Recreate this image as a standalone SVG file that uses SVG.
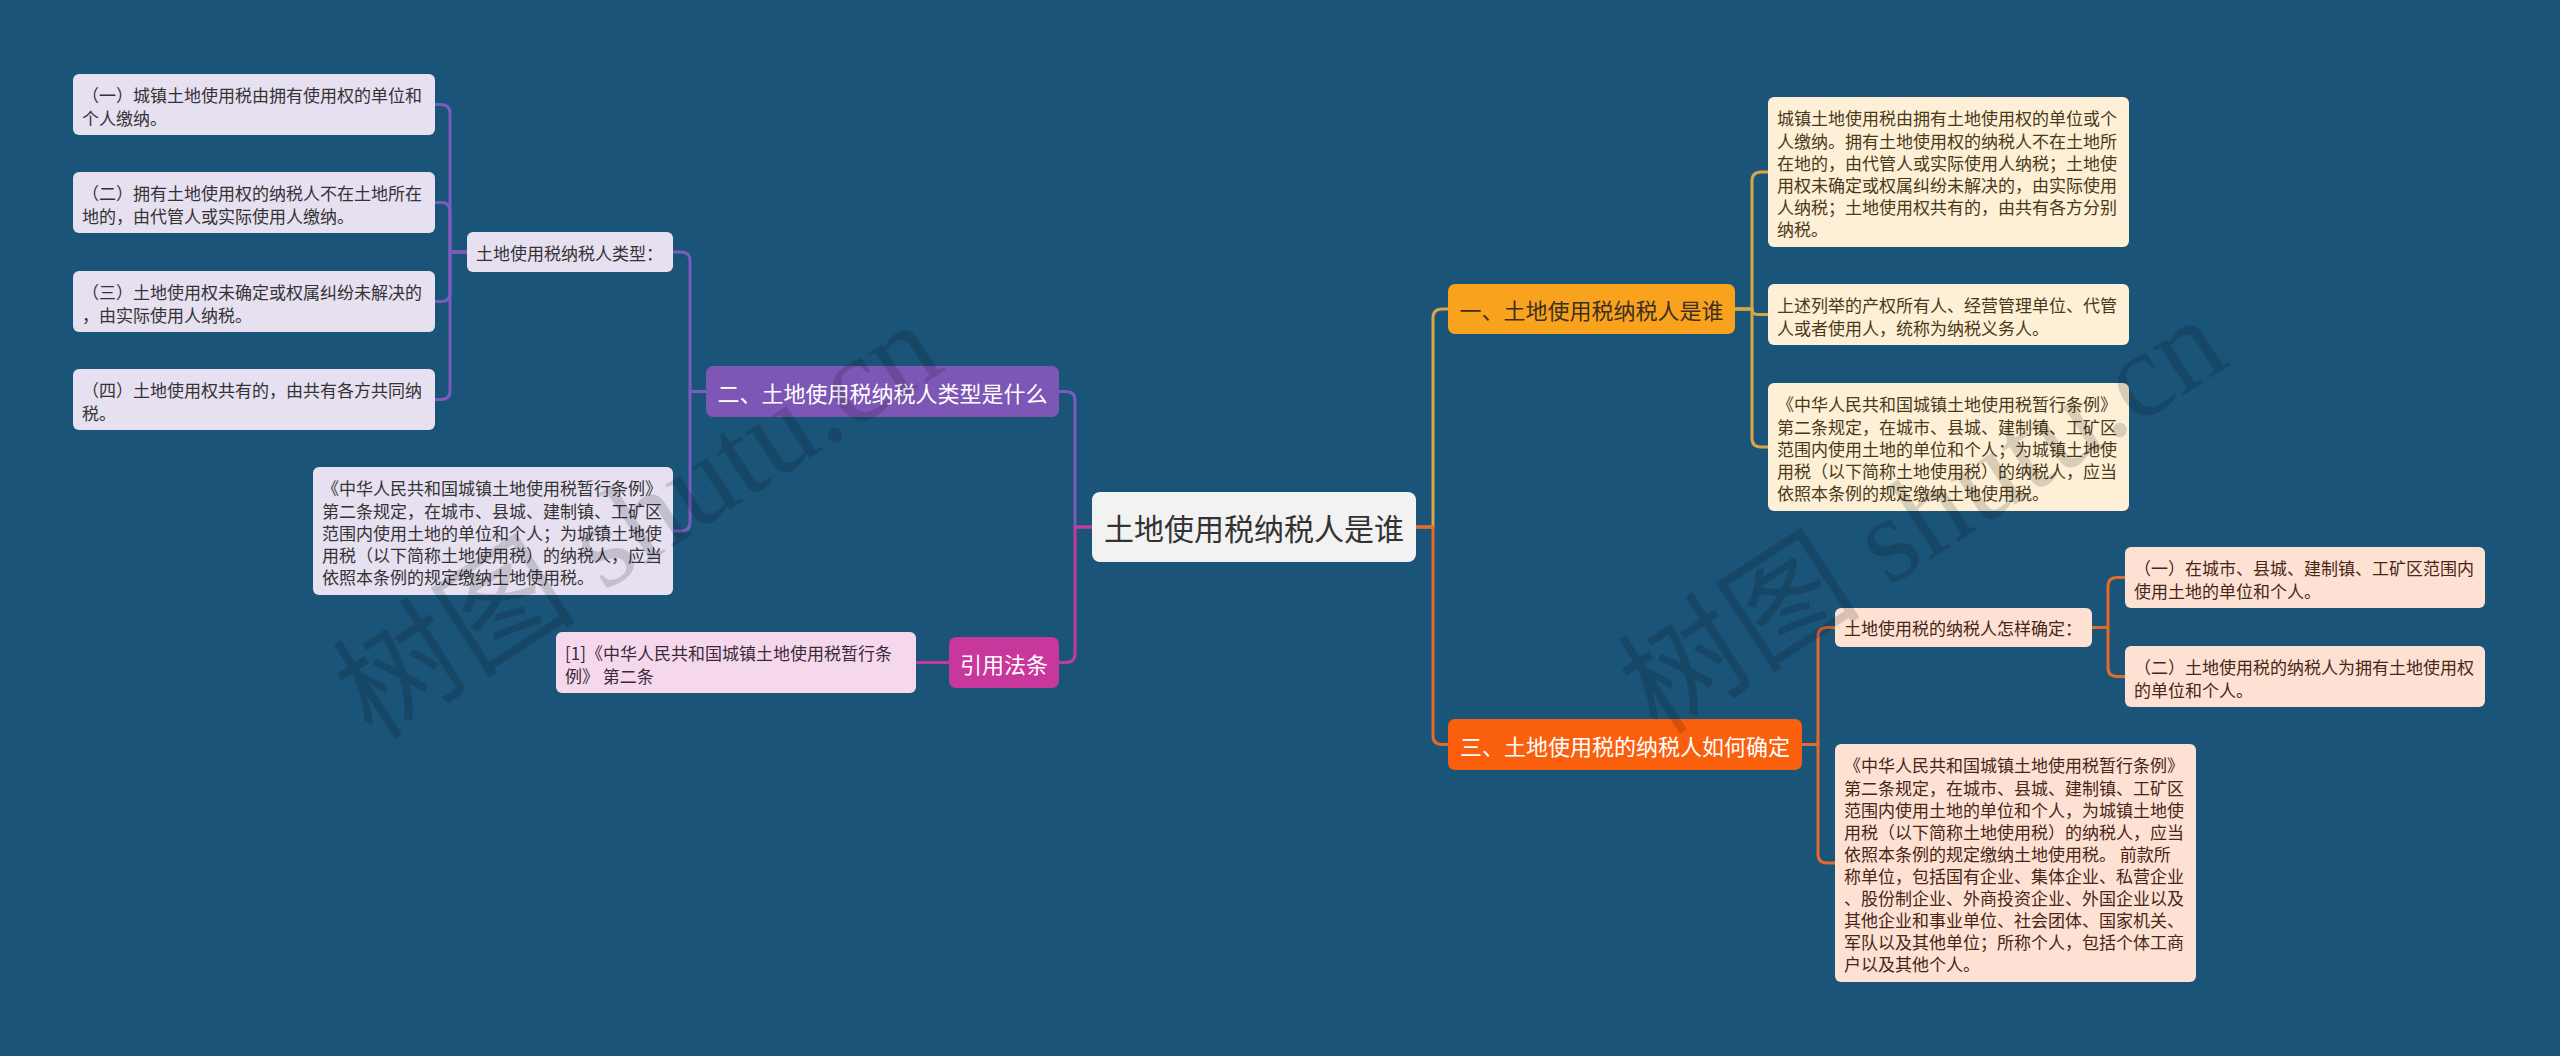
<svg xmlns="http://www.w3.org/2000/svg" width="2560" height="1056" viewBox="0 0 2560 1056">
<style>
text { font-family: "Noto Sans CJK SC", "Noto Sans", sans-serif; dominant-baseline: central; }
.lf { font-size: 17px; }
.br { font-size: 22px; text-anchor: middle; }
.ct { font-size: 30px; text-anchor: middle; fill: #333333; }
.purpleLeaf { fill: #e6e0f1; }
.purpleTxt { fill: #333333; }
.goldLeaf { fill: #fdf0d6; }
.goldTxt { fill: #4a3819; }
.orLeaf { fill: #fde2d3; }
.orTxt { fill: #4a2517; }
.pinkLeaf { fill: #f6d8ec; }
.pinkTxt { fill: #3a2a3a; }
.c { fill: none; stroke-width: 3; stroke-linecap: round; stroke-linejoin: round; }
.cp { stroke: #7a5cbc; }
.cm { stroke: #c43a9c; }
.cg { stroke: #d9a645; }
.co { stroke: #e3692c; }
.wm { font-family: "Liberation Serif", "Noto Sans CJK SC", serif; font-size: 122px; fill: #000000; opacity: 0.14; text-anchor: middle; dominant-baseline: auto; }
</style>
<rect width="2560" height="1056" fill="#1b5479"/>

<g id="connectors">
  <path class="c cp" d="M467,252 H450 V113.5 Q450,104.5 441,104.5 H435"/>
  <path class="c cp" d="M467,252 H450 V211.5 Q450,202.5 441,202.5 H435"/>
  <path class="c cp" d="M467,252 H450 V292.5 Q450,301.5 441,301.5 H435"/>
  <path class="c cp" d="M467,252 H450 V390.5 Q450,399.5 441,399.5 H435"/>
  <path class="c cp" d="M706,391.5 H690 V261 Q690,252 681,252 H673"/>
  <path class="c cp" d="M706,391.5 H690 V522 Q690,531 681,531 H673"/>
  <path class="c cp" d="M1092,527 H1075 V400.5 Q1075,391.5 1066,391.5 H1059"/>
  <path class="c cm" d="M1092,527 H1075 V653.5 Q1075,662.5 1066,662.5 H1059"/>
  <path class="c cm" d="M949,662.5 H916"/>
  <path class="c cg" d="M1416,527 H1433 V318 Q1433,309 1442,309 H1448"/>
  <path class="c co" d="M1416,527 H1433 V735.5 Q1433,744.5 1442,744.5 H1448"/>
  <path class="c cg" d="M1735,309 H1752 V181 Q1752,172 1761,172 H1768"/>
  <path class="c cg" d="M1735,309 H1752 Q1752,314.5 1757.5,314.5 H1768"/>
  <path class="c cg" d="M1735,309 H1752 V438 Q1752,447 1761,447 H1768"/>
  <path class="c co" d="M1802,744.5 H1818 V636.5 Q1818,627.5 1827,627.5 H1835"/>
  <path class="c co" d="M1802,744.5 H1818 V854 Q1818,863 1827,863 H1835"/>
  <path class="c co" d="M2092,627.5 H2108 V586.5 Q2108,577.5 2117,577.5 H2125"/>
  <path class="c co" d="M2092,627.5 H2108 V667.5 Q2108,676.5 2117,676.5 H2125"/>
</g>

<g id="center">
  <rect x="1092" y="492" width="324" height="70" rx="8" fill="#f2f2f2"/>
  <text class="ct" x="1254" y="527">土地使用税纳税人是谁</text>
</g>

<g id="branch-er">
  <rect x="706" y="366" width="353" height="51" rx="7" fill="#7e56b6"/>
  <text class="br" x="882.5" y="391.5" fill="#ffffff">二、土地使用税纳税人类型是什么</text>
</g>
<g id="type-label">
  <rect class="purpleLeaf" x="467" y="232" width="206" height="40" rx="6"/>
  <text class="lf purpleTxt" x="476" y="252">土地使用税纳税人类型：</text>
</g>
<g id="type-1">
  <rect class="purpleLeaf" x="73" y="74" width="362" height="61" rx="6"/>
  <text class="lf purpleTxt" x="82" y="94.5">（一）城镇土地使用税由拥有使用权的单位和<tspan x="82" y="116.5">个人缴纳。</tspan></text>
</g>
<g id="type-2">
  <rect class="purpleLeaf" x="73" y="172" width="362" height="61" rx="6"/>
  <text class="lf purpleTxt" x="82" y="192.5">（二）拥有土地使用权的纳税人不在土地所在<tspan x="82" y="214.5">地的，由代管人或实际使用人缴纳。</tspan></text>
</g>
<g id="type-3">
  <rect class="purpleLeaf" x="73" y="271" width="362" height="61" rx="6"/>
  <text class="lf purpleTxt" x="82" y="291.5">（三）土地使用权未确定或权属纠纷未解决的<tspan x="82" y="313.5">，由实际使用人纳税。</tspan></text>
</g>
<g id="type-4">
  <rect class="purpleLeaf" x="73" y="369" width="362" height="61" rx="6"/>
  <text class="lf purpleTxt" x="82" y="389.5">（四）土地使用权共有的，由共有各方共同纳<tspan x="82" y="411.5">税。</tspan></text>
</g>
<g id="reg-left">
  <rect class="purpleLeaf" x="313" y="467" width="360" height="128" rx="6"/>
  <text class="lf purpleTxt" x="322" y="487.5">《中华人民共和国城镇土地使用税暂行条例》<tspan x="322" y="509.5">第二条规定，在城市、县城、建制镇、工矿区</tspan><tspan x="322" y="531.5">范围内使用土地的单位和个人；为城镇土地使</tspan><tspan x="322" y="553.5">用税（以下简称土地使用税）的纳税人，应当</tspan><tspan x="322" y="575.5">依照本条例的规定缴纳土地使用税。</tspan></text>
</g>

<g id="branch-ref">
  <rect x="949" y="637" width="110" height="51" rx="7" fill="#c8379c"/>
  <text class="br" x="1004" y="662.5" fill="#ffffff">引用法条</text>
</g>
<g id="ref-1">
  <rect class="pinkLeaf" x="556" y="632" width="360" height="61" rx="6"/>
  <text class="lf pinkTxt" x="565" y="652.5">[1]《中华人民共和国城镇土地使用税暂行条<tspan x="565" y="674.5">例》 第二条</tspan></text>
</g>

<g id="branch-yi">
  <rect x="1448" y="284" width="287" height="50" rx="7" fill="#f8a21e"/>
  <text class="br" x="1591.5" y="309" fill="#3d3020">一、土地使用税纳税人是谁</text>
</g>
<g id="yi-1">
  <rect class="goldLeaf" x="1768" y="97" width="361" height="150" rx="6"/>
  <text class="lf goldTxt" x="1777" y="117.5">城镇土地使用税由拥有土地使用权的单位或个<tspan x="1777" y="139.5">人缴纳。拥有土地使用权的纳税人不在土地所</tspan><tspan x="1777" y="161.5">在地的，由代管人或实际使用人纳税；土地使</tspan><tspan x="1777" y="183.5">用权未确定或权属纠纷未解决的，由实际使用</tspan><tspan x="1777" y="205.5">人纳税；土地使用权共有的，由共有各方分别</tspan><tspan x="1777" y="227.5">纳税。</tspan></text>
</g>
<g id="yi-2">
  <rect class="goldLeaf" x="1768" y="284" width="361" height="61" rx="6"/>
  <text class="lf goldTxt" x="1777" y="304.5">上述列举的产权所有人、经营管理单位、代管<tspan x="1777" y="326.5">人或者使用人，统称为纳税义务人。</tspan></text>
</g>
<g id="yi-3">
  <rect class="goldLeaf" x="1768" y="383" width="361" height="128" rx="6"/>
  <text class="lf goldTxt" x="1777" y="403.5">《中华人民共和国城镇土地使用税暂行条例》<tspan x="1777" y="425.5">第二条规定，在城市、县城、建制镇、工矿区</tspan><tspan x="1777" y="447.5">范围内使用土地的单位和个人；为城镇土地使</tspan><tspan x="1777" y="469.5">用税（以下简称土地使用税）的纳税人，应当</tspan><tspan x="1777" y="491.5">依照本条例的规定缴纳土地使用税。</tspan></text>
</g>

<g id="branch-san">
  <rect x="1448" y="719" width="354" height="51" rx="7" fill="#fa5f0e"/>
  <text class="br" x="1625" y="744.5" fill="#ffffff">三、土地使用税的纳税人如何确定</text>
</g>
<g id="san-label">
  <rect class="orLeaf" x="1835" y="608" width="257" height="39" rx="6"/>
  <text class="lf orTxt" x="1844" y="627.5">土地使用税的纳税人怎样确定：</text>
</g>
<g id="san-1">
  <rect class="orLeaf" x="2125" y="547" width="360" height="61" rx="6"/>
  <text class="lf orTxt" x="2134" y="567.5">（一）在城市、县城、建制镇、工矿区范围内<tspan x="2134" y="589.5">使用土地的单位和个人。</tspan></text>
</g>
<g id="san-2">
  <rect class="orLeaf" x="2125" y="646" width="360" height="61" rx="6"/>
  <text class="lf orTxt" x="2134" y="666.5">（二）土地使用税的纳税人为拥有土地使用权<tspan x="2134" y="688.5">的单位和个人。</tspan></text>
</g>
<g id="san-3">
  <rect class="orLeaf" x="1835" y="744" width="361" height="238" rx="6"/>
  <text class="lf orTxt" x="1844" y="764.5">《中华人民共和国城镇土地使用税暂行条例》<tspan x="1844" y="786.5">第二条规定，在城市、县城、建制镇、工矿区</tspan><tspan x="1844" y="808.5">范围内使用土地的单位和个人，为城镇土地使</tspan><tspan x="1844" y="830.5">用税（以下简称土地使用税）的纳税人，应当</tspan><tspan x="1844" y="852.5">依照本条例的规定缴纳土地使用税。 前款所</tspan><tspan x="1844" y="874.5">称单位，包括国有企业、集体企业、私营企业</tspan><tspan x="1844" y="896.5">、股份制企业、外商投资企业、外国企业以及</tspan><tspan x="1844" y="918.5">其他企业和事业单位、社会团体、国家机关、</tspan><tspan x="1844" y="940.5">军队以及其他单位；所称个人，包括个体工商</tspan><tspan x="1844" y="962.5">户以及其他个人。</tspan></text>
</g>

<g id="watermark">
  <text class="wm" transform="translate(660,555) rotate(-33)">树图 shutu.cn</text>
  <text class="wm" transform="translate(1945,550) rotate(-33)">树图 shutu.cn</text>
</g>
</svg>
